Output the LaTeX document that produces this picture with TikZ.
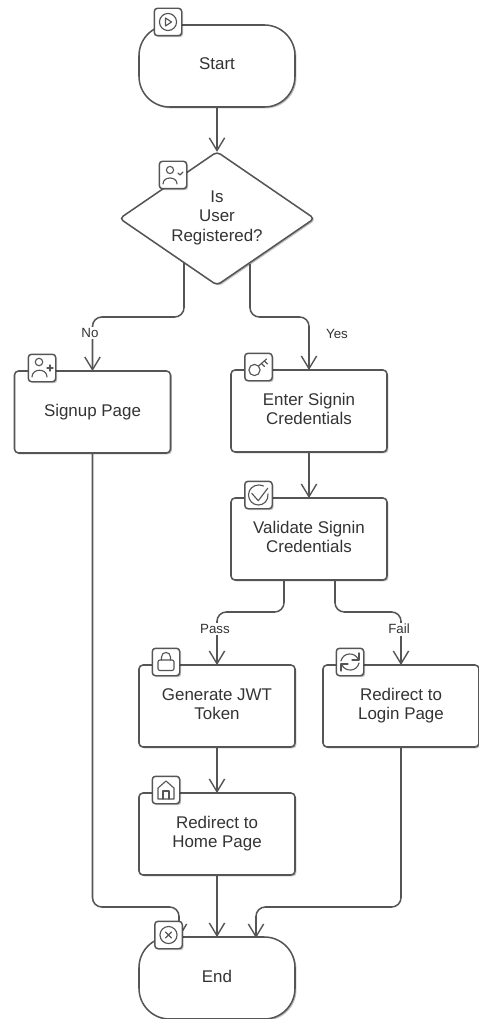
\documentclass[tikz,border=0pt]{standalone}
\usepackage{fontspec}
\setmainfont{Liberation Sans}
\usetikzlibrary{arrows.meta,shapes.geometric,shadows}
\definecolor{ln}{HTML}{555555}
\definecolor{tx}{HTML}{333333}
\tikzset{
  softshadow/.style={drop shadow={shadow xshift=1.1pt,shadow yshift=-1.1pt,opacity=0.25,fill=black}},
  base/.style={draw=ln,fill=white,line width=1.15pt,text=tx,font=\fontsize{12.7pt}{14.3pt}\selectfont,align=center,inner sep=0pt,outer sep=0pt,softshadow},
  procbox/.style={base,rectangle,rounded corners=3pt,minimum width=117pt,minimum height=61.5pt,text depth=3.2pt},
  termbox/.style={base,rectangle,rounded corners=23pt,minimum width=117pt,minimum height=61.5pt,text depth=3pt},
  decbox/.style={base,diamond,aspect=1.46,rounded corners=3pt,minimum width=146pt,minimum height=100pt,text depth=3.5pt},
  iconbox/.style={draw=ln,fill=white,line width=1.1pt,rectangle,rounded corners=2.5pt,minimum size=20.6pt,inner sep=0pt,outer sep=0pt,softshadow},
  edge/.style={draw=ln,line width=1.15pt,rounded corners=7pt,-{Straight Barb[length=9.5pt,width=11.5pt,line width=1.05pt]}},
  elabel/.style={fill=white,text=tx,font=\fontsize{10pt}{12pt}\selectfont,inner sep=1.2pt},
  ic/.style={draw=ln,line width=0.85pt,line cap=round,line join=round},
}
\begin{document}
\begin{tikzpicture}[x=0.75pt,y=-0.75pt]
\useasboundingbox (0,0) rectangle (478,1019);
% shapes
\node[termbox] (start) at (217,66) {Start};
\node[decbox] (dec) at (217,218.5) {Is\\User\\Registered?};
\node[procbox] (signup) at (92.5,412) {Signup Page};
\node[procbox] (enter) at (309,411) {Enter Signin\\Credentials};
\node[procbox] (valid) at (309,539) {Validate Signin\\Credentials};
\node[procbox] (jwt) at (217,706) {Generate JWT\\Token};
\node[procbox] (login) at (401,706) {Redirect to\\Login Page};
\node[procbox] (home) at (217,834) {Redirect to\\Home Page};
\node[termbox] (end) at (217,978) {End};
% connector waypoints
\coordinate (noa) at (184,263);
\coordinate (nob) at (184,317);
\coordinate (noc) at (92.5,317);
\coordinate (yesa) at (250,264);
\coordinate (yesb) at (250,317);
\coordinate (yesc) at (309,317);
\coordinate (pa) at (284,580);
\coordinate (pb) at (284,612);
\coordinate (pc) at (217,612);
\coordinate (fa) at (335,580);
\coordinate (fb) at (335,612);
\coordinate (fc) at (401,612);
\coordinate (sa) at (92.5,907);
\coordinate (sb) at (179,907);
\coordinate (se) at (179,938);
\coordinate (la) at (401,907);
\coordinate (lb) at (256,907);
\coordinate (le) at (256,938);
% connectors
\draw[edge] (start.south) -- (dec.north);
\draw[edge] (noa) -- (nob) -- (noc) -- (signup.north);
\draw[edge] (yesa) -- (yesb) -- (yesc) -- (enter.north);
\draw[edge] (enter.south) -- (valid.north);
\draw[edge] (pa) -- (pb) -- (pc) -- (jwt.north);
\draw[edge] (fa) -- (fb) -- (fc) -- (login.north);
\draw[edge] (jwt.south) -- (home.north);
\draw[edge] (home.south) -- (end.north);
\draw[edge] (signup.south) -- (sa) -- (sb) -- (se);
\draw[edge] (login.south) -- (la) -- (lb) -- (le);
% connector labels
\node[elabel] (lno) at (90,333) {No};
\node[elabel] (lyes) at (337,334) {Yes};
\node[elabel] (lpass) at (215,629) {Pass};
\node[elabel] (lfail) at (399,629) {Fail};
% icon boxes
\node[iconbox] (istart) at (168,22) {};
\node[iconbox] (idec) at (173,175) {};
\node[iconbox] (isign) at (42,368) {};
\node[iconbox] (ienter) at (258.5,367) {};
\node[iconbox] (ivalid) at (258.5,495) {};
\node[iconbox] (ijwt) at (166,662) {};
\node[iconbox] (ilogin) at (350,662) {};
\node[iconbox] (ihome) at (166,790) {};
\node[iconbox] (iend) at (168.5,935) {};
% play
\begin{scope}[shift={(istart.center)}]
\draw[ic] (0,0) circle (6.4pt);
\draw[ic] (-2.5,-4) -- (3.5,0) -- (-2.5,4) -- cycle;
\end{scope}
% user check
\begin{scope}[shift={(idec.center)}]
\draw[ic] (-3,-5) circle (2.7pt);
\draw[ic] (-10,9) .. controls (-10,1) and (4,1) .. (4,9);
\draw[ic] (5,-2) -- (7,0) -- (10,-3);
\end{scope}
% user plus
\begin{scope}[shift={(isign.center)}]
\draw[ic] (-3,-6) circle (2.8pt);
\draw[ic] (-10,9) .. controls (-10,0) and (5,0) .. (5,9);
\draw[ic] (8,-3) -- (8,3) (5,0) -- (11,0);
\end{scope}
% key
\begin{scope}[shift={(ienter.center)}]
\draw[ic] (-4,3) circle (4.2pt);
\draw[ic] (0,-1) -- (8,-8);
\draw[ic] (3,-3.5) -- (6,-0.5) (6,-6) -- (9,-3);
\end{scope}
% validated
\begin{scope}[shift={(ivalid.center)}]
\draw[ic] (9.5,-1) .. controls (10,6) and (5,10) .. (0,10) .. controls (-6,10) and (-10,5) .. (-10,0) .. controls (-10,-6) and (-5,-10) .. (0,-10) .. controls (2,-10) and (3.5,-9.5) .. (5,-9);
\draw[ic] (-6.8,-1.7) -- (-0.2,5.7) -- (9.2,-6.7);
\end{scope}
% lock
\begin{scope}[shift={(ijwt.center)}]
\draw[ic,rounded corners=1.5pt] (-8,-2) rectangle (8,8.5);
\draw[ic] (-4.5,-2) -- (-4.5,-5) .. controls (-4.5,-11) and (4.5,-11) .. (4.5,-5) -- (4.5,-2);
\end{scope}
% refresh
\begin{scope}[shift={(ilogin.center)}]
\draw[ic] (-9,-1) .. controls (-7,-10) and (5,-10) .. (8,-3);
\draw[ic] (9,-9) -- (9,-2) -- (2,-2);
\draw[ic] (9,1) .. controls (7,10) and (-5,10) .. (-8,3);
\draw[ic] (-9,9) -- (-9,2) -- (-2,2);
\end{scope}
% home
\begin{scope}[shift={(ihome.center)}]
\draw[ic] (-8,9) -- (-8,-2) -- (0,-9) -- (8,-2) -- (8,9) -- cycle;
\draw[ic] (-3,9) -- (-3,1) -- (3,1) -- (3,9);
\end{scope}
% x circle
\begin{scope}[shift={(iend.center)}]
\draw[ic] (0,0) circle (6.4pt);
\draw[ic] (-3,-3) -- (3,3) (-3,3) -- (3,-3);
\end{scope}
\end{tikzpicture}
\end{document}
